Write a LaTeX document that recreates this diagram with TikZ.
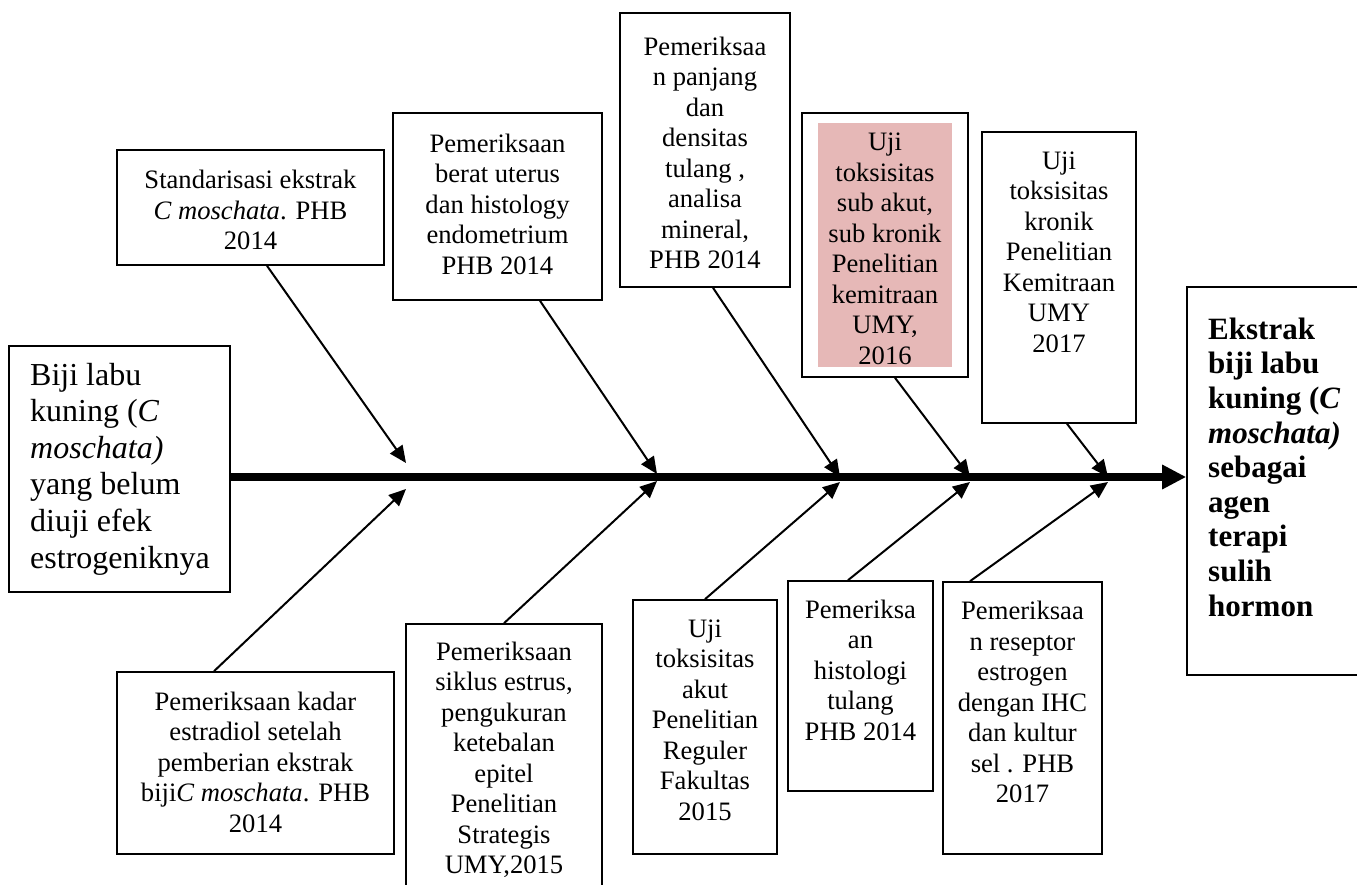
\documentclass[tikz,border=0pt]{standalone}
\usepackage{fontspec}
\setmainfont{Liberation Serif}
\usetikzlibrary{arrows.meta,fit}
\definecolor{pinkbg}{RGB}{230,184,183}
\newcommand\fmain{\fontsize{26.6}{30.5}\selectfont}
\newcommand\fbig{\fontsize{32}{36.6}\selectfont}
\newcommand\fbold{\fontsize{31}{34.6}\selectfont\bfseries}
\begin{document}
\begin{tikzpicture}[x=1pt,y=-1pt,
  bx/.style={draw,line width=1.6pt,inner sep=0pt},
  fillbox/.style={fill=pinkbg,draw=none,inner sep=0pt},
  txt/.style={align=center,inner sep=0pt,font=\fmain},
  txtl/.style={align=left,inner sep=0pt,anchor=west},
  arr/.style={line width=2pt,-{Triangle[length=17pt,width=15pt]}},
  spine/.style={line width=8pt,-{Triangle[length=24pt,width=23pt]}}]
\useasboundingbox (0,0) rectangle (1357,885);
% boxes
\node[bx,fit={(9,346) (230,592)}] (lbox) {};
\node[bx,fit={(1187,287) (1365,675)}] (rbox) {};
\node[bx,fit={(117,150) (384,265)}] (u1) {};
\node[bx,fit={(393,113) (602,300)}] (u2) {};
\node[bx,fit={(620,13) (790,287)}] (u3) {};
\node[bx,fit={(802,113) (968,377)}] (u4) {};
\node[fillbox,fit={(818,123) (952,367)}] (u4fill) {};
\node[bx,fit={(982,132) (1136,423)}] (u5) {};
\node[bx,fit={(117,672) (394,854)}] (d1) {};
\node[bx,fit={(406,624) (602,895)}] (d2) {};
\node[bx,fit={(633,600) (777,854)}] (d3) {};
\node[bx,fit={(788,581) (933,791)}] (d4) {};
\node[bx,fit={(943,582) (1102,854)}] (d5) {};
% texts
\node[txtl,font=\fbig] (lt) at (30,469) {Biji labu\\kuning (\textit{C}\\\textit{moschata)}\\yang belum\\diuji efek\\estrogeniknya};
\node[txtl,font=\fbold] (rt) at (1208,467) {Ekstrak\\biji labu\\kuning (\textit{C}\\\textit{moschata)}\\sebagai\\agen\\terapi\\sulih\\hormon};
\node[txt] (u1t) at (250.5,210) {Standarisasi ekstrak\\\textit{C moschata}. PHB\\2014};
\node[txt] (u2t) at (497.5,204) {Pemeriksaan\\berat uterus\\dan histology\\endometrium\\PHB 2014};
\node[txt] (u3t) at (705,153) {Pemeriksaa\\n panjang\\dan\\densitas\\tulang ,\\analisa\\mineral,\\PHB 2014};
\node[txt] (u4t) at (885,249) {Uji\\toksisitas\\sub akut,\\sub kronik\\Penelitian\\kemitraan\\UMY,\\2016};
\node[txt] (u5t) at (1059,252) {Uji\\toksisitas\\kronik\\Penelitian\\Kemitraan\\UMY\\2017};
\node[txt] (d1t) at (255.5,762) {Pemeriksaan kadar\\estradiol setelah\\pemberian ekstrak\\biji\textit{C moschata}. PHB\\2014};
\node[txt] (d2t) at (504,760) {Pemeriksaan\\siklus estrus,\\pengukuran\\ketebalan\\epitel\\Penelitian\\Strategis\\UMY,2015};
\node[txt] (d3t) at (705,720) {Uji\\toksisitas\\akut\\Penelitian\\Reguler\\Fakultas\\2015};
\node[txt] (d4t) at (860.5,670) {Pemeriksa\\an\\histologi\\tulang\\PHB 2014};
\node[txt] (d5t) at (1022.5,702) {Pemeriksaa\\n reseptor\\estrogen\\dengan IHC\\dan kultur\\sel . PHB\\2017};
% spine
\coordinate (sy) at (0,477);
\draw[spine] (lbox.east |- sy) -- (rbox.west |- sy);
% arrow tips
\coordinate (ta1) at (406,463);
\coordinate (ta2) at (657,474);
\coordinate (ta3) at (840,477);
\coordinate (ta4) at (970,477);
\coordinate (ta5) at (1108,477);
\coordinate (tb1) at (406,489);
\coordinate (tb2) at (657,481);
\coordinate (tb3) at (840,482);
\coordinate (tb4) at (970,482);
\coordinate (tb5) at (1108,482);
\draw[arr] ([xshift=16.5pt]u1.south) -- (ta1);
\draw[arr] ([xshift=42.5pt]u2.south) -- (ta2);
\draw[arr] ([xshift=8pt]u3.south) -- (ta3);
\draw[arr] ([xshift=10pt]u4.south) -- (ta4);
\draw[arr] ([xshift=8pt]u5.south) -- (ta5);
\draw[arr] ([xshift=-41.5pt]d1.north) -- (tb1);
\draw[arr] (d2.north) -- (tb2);
\draw[arr] (d3.north) -- (tb3);
\draw[arr] ([xshift=-12.5pt]d4.north) -- (tb4);
\draw[arr] ([xshift=-52.5pt]d5.north) -- (tb5);
\end{tikzpicture}
\end{document}
